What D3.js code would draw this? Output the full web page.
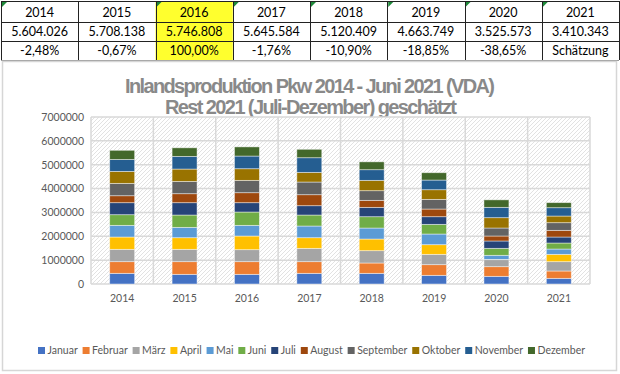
<!DOCTYPE html>
<meta charset="utf-8">
<style>
body { margin: 0; background: #fff; }
svg { display: block; }
.cell { font: 12.5px Lato, "Open Sans", sans-serif; fill: #000; text-anchor: middle; }
.title { font: bold 20px "Liberation Sans", Arial, sans-serif; fill: #898989; text-anchor: middle; }
.axis text { font: 10.5px Lato, sans-serif; fill: #595959; }
.legend text { font: 10.5px Lato, sans-serif; fill: #595959; }
</style>
<svg width="620" height="374"></svg>
<script src="https://d3js.org/d3.v7.min.js"></script>
<script>

// Pkw-Produktion je Monat, Jahre 2014..2021 (aus dem Bild geschätzt)
var years = ["2014", "2015", "2016", "2017", "2018", "2019", "2020", "2021"];
var months = ["Januar", "Februar", "März", "April", "Mai", "Juni", "Juli", "August", "September", "Oktober", "November", "Dezember"];
var colors = ["#4472c4", "#ed7d31", "#a5a5a5", "#ffc000", "#5b9bd5", "#70ad47", "#264478", "#9e480e", "#636363", "#997300", "#255e91", "#43682b"];

var januar    = [447000, 405000, 405000, 447000, 447000, 363000, 321000, 237000];
var februar   = [489000, 531000, 531000, 489000, 433000, 447000, 405000, 308000];
var maerz     = [517000, 517000, 503000, 558000, 517000, 433000, 294000, 391000];
var april     = [516000, 488000, 572000, 447000, 488000, 405000, 10900, 307000];
var mai       = [489000, 433000, 447000, 489000, 461000, 447000, 171000, 223000];
var juni      = [447000, 517000, 559000, 461000, 475000, 405000, 293000, 252000];
var juli      = [503000, 517000, 391000, 391000, 391000, 321000, 308000, 251000];
var august    = [292000, 377000, 419000, 461000, 294000, 321000, 209000, 280000];
var september = [518000, 515000, 517000, 531000, 405000, 405000, 335000, 321000];
var oktober   = [502000, 518000, 488000, 405000, 433000, 405000, 433000, 279000];
var november  = [500000, 531000, 531000, 614000, 447000, 405000, 433000, 349000];
var dezember  = [384000, 359000, 384000, 353000, 329000, 307000, 314000, 212000];
var series = [januar, februar, maerz, april, mai, juni, juli, august, september, oktober, november, dezember];

// Tabelle oben
var totals = [5604026, 5708138, 5746808, 5645584, 5120409, 4663749, 3525573, 3410343];
var changes = ["-2,48%", "-0,67%", "100,00%", "-1,76%", "-10,90%", "-18,85%", "-38,65%", "Schätzung"];
var markedCols = [0, 2, 3, 4, 5, 6, 7];
var highlightCol = 2;

var de = d3.formatLocale({ decimal: ",", thousands: ".", grouping: [3], currency: ["", "€"] });
var fmtTotal = de.format(",d");

var svg = d3.select("svg");

// ---- Tabelle ----
var colX = d3.scaleBand().domain(d3.range(years.length)).range([1, 619]);
var rowY = [1, 22, 41, 60];
var tbl = svg.append("g");

tbl.selectAll("rect.hl")
  .data(d3.range(3))
  .enter().append("rect")
    .attr("x", colX(highlightCol))
    .attr("y", function(r) { return rowY[r]; })
    .attr("width", colX.bandwidth())
    .attr("height", function(r) { return rowY[r + 1] - rowY[r]; })
    .attr("fill", "#ffff2e");

tbl.selectAll("path.mark")
  .data(markedCols)
  .enter().append("path")
    .attr("d", function(c) { var x = colX(c) + 1, y = rowY[0] + 1; return "M" + x + "," + y + "h5l-5,5z"; })
    .attr("fill", "#1e8a3a");

var rows = [years, totals.map(fmtTotal), changes];
rows.forEach(function(row, r) {
  tbl.selectAll("text.r" + r)
    .data(row)
    .enter().append("text")
      .attr("class", "cell")
      .attr("x", function(d, i) { return colX(i) + colX.bandwidth() / 2; })
      .attr("y", rowY[r + 1] - 5)
      .text(function(d) { return d; });
});

tbl.selectAll("line.h")
  .data(rowY.slice(0, 3))
  .enter().append("line")
    .attr("x1", 1).attr("x2", 619)
    .attr("y1", function(d) { return d + 0.5; }).attr("y2", function(d) { return d + 0.5; })
    .attr("stroke", "#222");

tbl.append("line")
    .attr("x1", 1).attr("x2", 619).attr("y1", 60.5).attr("y2", 60.5)
    .attr("stroke", "#9a9a9a");

tbl.selectAll("line.v")
  .data(d3.range(years.length + 1))
  .enter().append("line")
    .attr("x1", function(i) { return Math.round(i < years.length ? colX(i) : 619) + 0.5; })
    .attr("x2", function(i) { return Math.round(i < years.length ? colX(i) : 619) + 0.5; })
    .attr("y1", 1).attr("y2", 60)
    .attr("stroke", "#222");

// ---- Diagrammrahmen ----
svg.append("rect")
    .attr("x", 2.5).attr("y", 61.5).attr("width", 614).attr("height", 309)
    .attr("fill", "none").attr("stroke", "#d6d6d6").attr("stroke-width", 1.5);

// Titel
svg.append("text").attr("class", "title")
    .attr("x", 310).attr("y", 93)
    .attr("textLength", 370).attr("lengthAdjust", "spacing")
    .text("Inlandsproduktion Pkw 2014 - Juni 2021 (VDA)");
svg.append("text").attr("class", "title")
    .attr("x", 311).attr("y", 114)
    .attr("textLength", 292).attr("lengthAdjust", "spacing")
    .text("Rest 2021 (Juli-Dezember) geschätzt");

// ---- Plot ----
var plotL = 91, plotR = 590, plotT = 117, plotB = 284;

var x = d3.scaleBand().domain(years).range([plotL, plotR]).padding(0);
var y = d3.scaleLinear().domain([0, 7000000]).range([plotB, plotT]);

var defs = svg.append("defs");
var pat = defs.append("pattern")
    .attr("id", "hatch").attr("patternUnits", "userSpaceOnUse")
    .attr("width", 4).attr("height", 4);
pat.append("rect").attr("width", 4).attr("height", 4).attr("fill", "#fff");
pat.append("path").attr("d", "M-1,1l2,-2M0,4l4,-4M3,5l2,-2")
    .attr("stroke", "#e2e2e2").attr("stroke-width", 1);

svg.append("rect")
    .attr("x", plotL).attr("y", plotT)
    .attr("width", plotR - plotL).attr("height", plotB - plotT)
    .attr("fill", "url(#hatch)");

var grid = svg.append("g").attr("stroke", "#d9d9d9").attr("stroke-width", 1.5);
grid.selectAll("line.gy")
  .data(y.ticks(7))
  .enter().append("line")
    .attr("x1", plotL).attr("x2", plotR)
    .attr("y1", function(d) { return y(d); }).attr("y2", function(d) { return y(d); });
grid.selectAll("line.gx")
  .data(years.concat(["end"]))
  .enter().append("line")
    .attr("x1", function(d) { return d === "end" ? plotR : x(d); })
    .attr("x2", function(d) { return d === "end" ? plotR : x(d); })
    .attr("y1", plotT).attr("y2", plotB);

// gestapelte Säulen
var table = years.map(function(yr, i) {
  var o = { year: yr };
  months.forEach(function(m, k) { o[m] = series[k][i]; });
  return o;
});
var stacked = d3.stack().keys(months)(table);
var barW = x.bandwidth() * 0.4;

svg.append("g").selectAll("g")
  .data(stacked)
  .enter().append("g")
    .attr("fill", function(d, k) { return colors[k]; })
  .selectAll("rect")
  .data(function(d) { return d; })
  .enter().append("rect")
    .attr("x", function(d) { return x(d.data.year) + (x.bandwidth() - barW) / 2; })
    .attr("y", function(d) { return y(d[1]); })
    .attr("width", barW)
    .attr("height", function(d) { return y(d[0]) - y(d[1]); })
    .attr("stroke", "rgba(255,255,255,0.55)")
    .attr("stroke-width", 0.8);

// Achsen
var yAxis = svg.append("g").attr("class", "axis")
    .attr("transform", "translate(" + plotL + ",0)")
    .call(d3.axisLeft(y).ticks(7).tickFormat(d3.format("d")).tickSize(0).tickPadding(7));
yAxis.select(".domain").remove();

var xAxis = svg.append("g").attr("class", "axis")
    .attr("transform", "translate(0," + plotB + ")")
    .call(d3.axisBottom(x).tickSize(0).tickPadding(11));
xAxis.select(".domain").remove();

// Legende
var legend = svg.append("g").attr("class", "legend");
var items = legend.selectAll("g")
  .data(months)
  .enter().append("g");
items.append("rect")
    .attr("width", 7).attr("height", 7).attr("y", -7)
    .attr("fill", function(d, k) { return colors[k]; });
items.append("text")
    .attr("x", 9.5).attr("y", 0)
    .text(function(d) { return d; });

var widths = [];
items.each(function() { widths.push(9.5 + this.querySelector("text").getComputedTextLength()); });
var gap = (585 - 38 - d3.sum(widths)) / (months.length - 1);
var pos = 38;
items.attr("transform", function(d, k) {
  var t = "translate(" + pos + ",354)";
  pos += widths[k] + gap;
  return t;
});

</script>
